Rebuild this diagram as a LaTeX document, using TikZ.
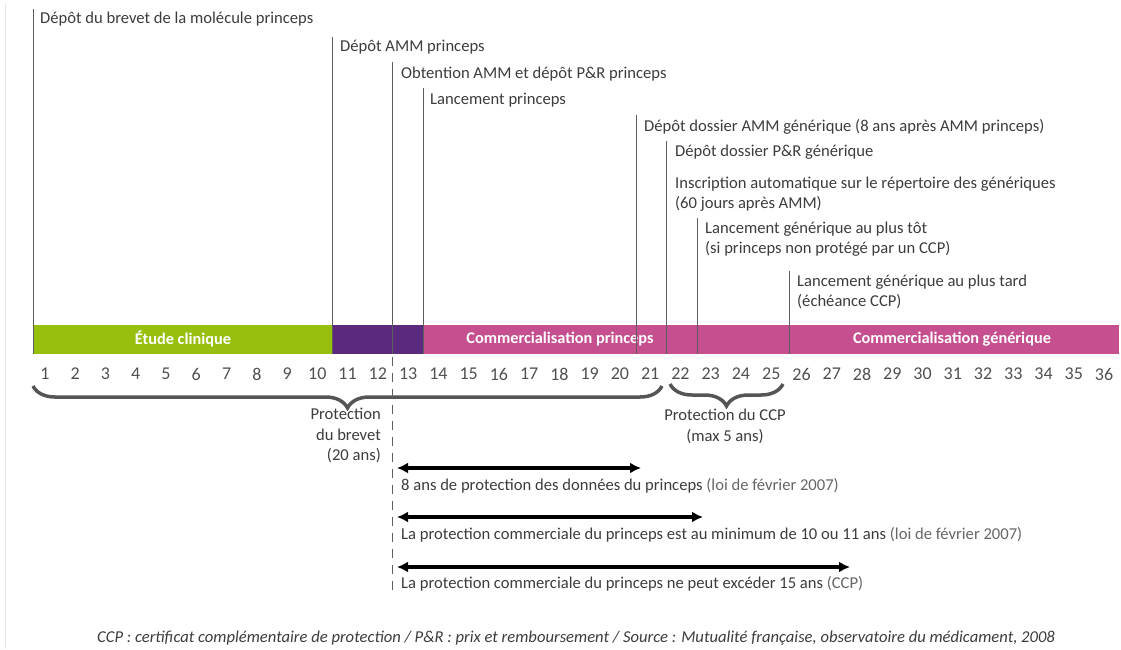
\documentclass[tikz,border=0pt]{standalone}
\usepackage{fontspec}
\setmainfont{Carlito}
\usepackage{xcolor}
\usetikzlibrary{arrows.meta, positioning, calc}
\usetikzlibrary{decorations.pathreplacing}
\definecolor{cliniq}{HTML}{97BF0D}
\definecolor{amm}{HTML}{5B2A7F}
\definecolor{comm}{HTML}{C64F8F}
\definecolor{txtgray}{HTML}{3C3C3C}
\definecolor{numgray}{HTML}{505050}
\definecolor{softgray}{HTML}{666666}
\definecolor{linegray}{HTML}{5E5E5E}
\definecolor{bracegray}{HTML}{555555}
\definecolor{framegray}{HTML}{E8E8E8}
\newcommand{\yx}[1]{{14.74+30.26*(#1)}}

\begin{document}
\begin{tikzpicture}[x=1pt,y=-1pt,
  lbl/.style={anchor=west,text=txtgray,font=\fontsize{16.6}{20.5}\selectfont,inner sep=0pt,align=left},
  mline/.style={draw=linegray,line width=1pt},
  yearnum/.style={text=numgray,font=\fontsize{18}{18}\selectfont,inner sep=0pt},
  barlbl/.style={text=white,font=\bfseries\fontsize{16.3}{16}\selectfont,inner sep=0pt},
  brc/.style={decorate,decoration={brace,mirror,amplitude=22pt},draw=bracegray,line width=3.5pt},
  protarrow/.style={{Latex[length=11pt,width=11pt]}-{Latex[length=11pt,width=11pt]},line width=4pt,black},
  arrtxt/.style={anchor=west,text=txtgray,font=\fontsize{16.6}{16}\selectfont,inner sep=0pt}]
\useasboundingbox (0,0) rectangle (1121,649);
\draw[framegray,line width=1pt] (5,3) -- (5,649);

% ---------------- Bar ----------------
\fill[cliniq] (33,325) rectangle (\yx{10.5},354);
\fill[amm] (\yx{10.5},325) rectangle (\yx{13.5},354);
\fill[comm] (\yx{13.5},325) rectangle (1119,354);
\node[barlbl] (etude) at (183,339) {Étude clinique};
\node[barlbl] (commp) at (560,339) {Commercialisation princeps};
\node[barlbl] (commg) at (952,339) {Commercialisation générique};

% ---------------- Markers ----------------
\draw[mline] (33,9) -- (33,354);
\node[lbl] (brevet) at (40,19) {Dépôt du brevet de la molécule princeps};
\draw[mline] (\yx{10.5},37) -- (\yx{10.5},354);
\node[lbl] (depamm) at (340,47) {Dépôt AMM princeps};
\draw[mline] (\yx{12.5},62) -- (\yx{12.5},354);
\node[lbl] (obtamm) at (401,74) {Obtention AMM et dépôt P\&R princeps};
\draw[mline] (\yx{13.5},88) -- (\yx{13.5},354);
\node[lbl] (lancp) at (430,100) {Lancement princeps};
\draw[mline] (\yx{20.55},115) -- (\yx{20.55},354);
\node[lbl] (depgen) at (644,127) {Dépôt dossier AMM générique (8 ans après AMM princeps)};
\draw[mline] (\yx{21.55},141) -- (\yx{21.55},354);
\node[lbl] (prgen) at (675,152) {Dépôt dossier P\&R générique};
\node[lbl] (inscr) at (675,194) {Inscription automatique sur le répertoire des génériques\\(60 jours après AMM)};
\draw[mline] (\yx{22.55},218) -- (\yx{22.55},354);
\node[lbl] (tot) at (705,239) {Lancement générique au plus tôt\\(si princeps non protégé par un CCP)};
\draw[mline] (\yx{25.6},271) -- (\yx{25.6},354);
\node[lbl] (tard) at (797,292) {Lancement générique au plus tard\\(échéance CCP)};

% ---------------- Years ----------------
\foreach \n in {1,...,36}
  \node[yearnum] (y\n) at (\yx{\n},374) {\n};

% ---------------- Braces ----------------
\draw[brc] (33,386) -- (662,386);
\node[lbl,anchor=north east,align=right] (brevprot) at (381,408) {Protection\\du brevet\\(20 ans)};
\draw[brc] (670,384) -- (783,384);
\node[lbl,anchor=north,align=center] (ccpprot) at (725,409) {Protection du CCP\\(max 5 ans)};

% ---------------- Protection periods ----------------
\draw[linegray,line width=1pt,dash pattern=on 9pt off 7pt] (\yx{12.5},357) -- (\yx{12.5},592);
\coordinate (a1) at (397,468);
\coordinate (b1) at (641,468);
\coordinate (a2) at (397,517);
\coordinate (b2) at (703,517);
\coordinate (a3) at (397,567);
\coordinate (b3) at (850,567);
\draw[protarrow] (a1) -- (b1);
\draw[protarrow] (a2) -- (b2);
\draw[protarrow] (a3) -- (b3);
\node[arrtxt] (t1) at (401,486) {8 ans de protection des données du princeps \textcolor{softgray}{(loi de février 2007)}};
\node[arrtxt] (t2) at (401,535) {La protection commerciale du princeps est au minimum de 10 ou 11 ans \textcolor{softgray}{(loi de février 2007)}};
\node[arrtxt] (t3) at (401,584) {La protection commerciale du princeps ne peut excéder 15 ans \textcolor{softgray}{(CCP)}};

% ---------------- Source ----------------
\node[text=txtgray,font=\itshape\fontsize{16.6}{16}\selectfont,inner sep=0pt] (src) at (576,638)
  {CCP : certificat complémentaire de protection / P\&R : prix et remboursement / Source : Mutualité française, observatoire du médicament, 2008};
\end{tikzpicture}
\end{document}
